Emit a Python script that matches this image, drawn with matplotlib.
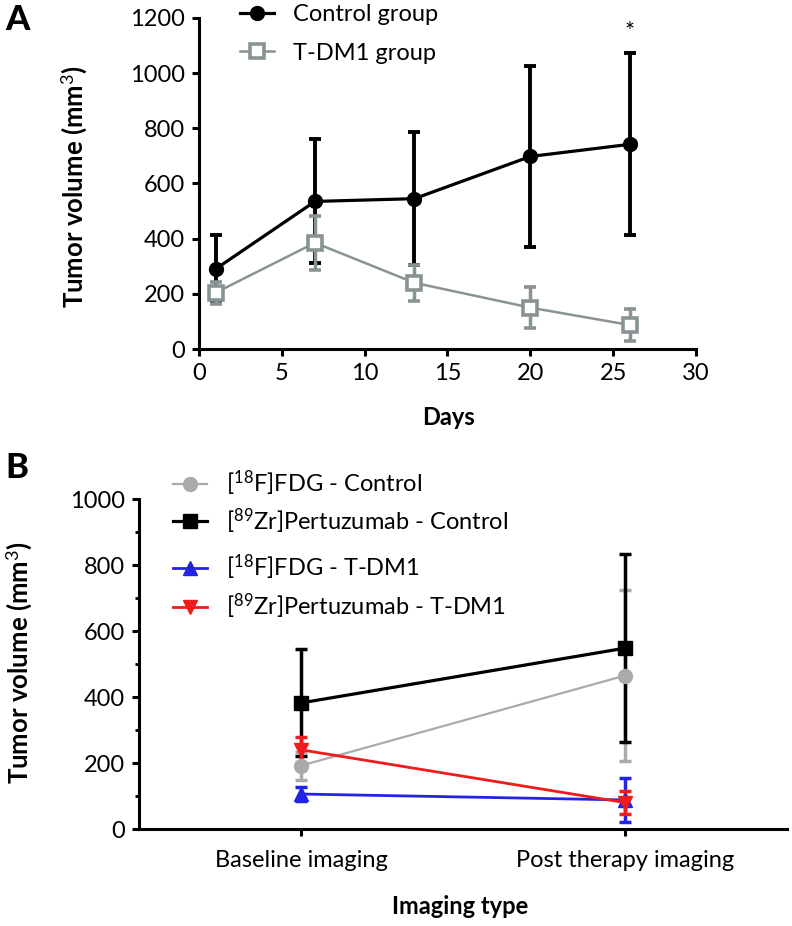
import numpy as np
import matplotlib
matplotlib.use('Agg')
import matplotlib.pyplot as plt
from matplotlib.ticker import MultipleLocator
from matplotlib.lines import Line2D

plt.rcParams['font.family'] = ['Lato', 'DejaVu Sans']
plt.rcParams['mathtext.fontset'] = 'custom'
plt.rcParams['mathtext.rm'] = 'Lato'
plt.rcParams['mathtext.it'] = 'Lato:italic'
plt.rcParams['mathtext.bf'] = 'Lato:bold'

# Panel A: tumor growth over days
days = [1, 7, 13, 20, 26]
control_mean = [290, 535, 545, 698, 742]
control_sd = [125, 225, 242, 328, 330]
tdm1_mean = [204, 385, 240, 150, 87]
tdm1_sd = [40, 98, 66, 74, 58]

# Panel B: imaging types
imaging = ['Baseline imaging', 'Post therapy imaging']
fdg_ctrl = [192, 465]
fdg_ctrl_sd = [42, 258]
zr_ctrl = [382, 548]
zr_ctrl_sd = [162, 284]
fdg_tdm1 = [106, 88]
fdg_tdm1_sd = [22, 67]
zr_tdm1 = [240, 80]
zr_tdm1_sd = [40, 34]

FS = 17
W, H = 792, 926
fig = plt.figure(figsize=(W / 100, H / 100), dpi=100)


def style_axes(ax):
    for s in ['top', 'right']:
        ax.spines[s].set_visible(False)
    for s in ['left', 'bottom']:
        ax.spines[s].set_linewidth(2.2)
    ax.tick_params(which='major', direction='out', length=5, width=2.2,
                   labelsize=FS, pad=5)
    ax.tick_params(which='minor', direction='out', length=3, width=2.0)


def px_axes(l, t, r, b):
    return fig.add_axes([l / W, 1 - b / H, (r - l) / W, (b - t) / H])


# ---------- panel A ----------
axA = px_axes(199, 18, 696, 349)
style_axes(axA)
axA.errorbar(days, control_mean, yerr=control_sd, color='black', lw=2.3,
             elinewidth=2.8, capsize=4, capthick=2.8, marker='o', ms=10,
             clip_on=False, zorder=3)
grey = '#899393'
axA.errorbar(days, tdm1_mean, yerr=tdm1_sd, color=grey, lw=1.8,
             elinewidth=2.5, capsize=4, capthick=2.5, marker='s', ms=10,
             mfc='white', mec=grey, mew=2.6, clip_on=False, zorder=4)
axA.set_xlim(0, 30)
axA.set_ylim(0, 1200)
axA.xaxis.set_major_locator(MultipleLocator(5))
axA.yaxis.set_major_locator(MultipleLocator(200))
axA.text(26, 1150, '*', ha='center', va='center', fontsize=FS)

hA = [Line2D([], [], color='black', lw=2.3, marker='o', ms=10),
      Line2D([], [], color=grey, lw=1.8, marker='s', ms=10, mfc='white',
             mec=grey, mew=2.6)]
fig.legend(hA, ['Control group', 'T-DM1 group'], loc='upper left',
           bbox_to_anchor=(240 / W, 1 - 4 / H), frameon=False, fontsize=FS,
           handlelength=1.45, handletextpad=0.8, labelspacing=0.75,
           borderpad=0, borderaxespad=0)

fig.text(74 / W, 1 - 187 / H, 'Tumor volume (mm$^3$)', rotation=90,
         ha='center', va='center', fontsize=18.5, fontweight='bold')
fig.text(449 / W, 1 - 417 / H, 'Days', ha='center', va='center',
         fontsize=FS, fontweight='bold')
fig.text(5 / W, 1 - 4 / H, 'A', ha='left', va='top', fontsize=25,
         fontweight='black')

# ---------- panel B ----------
axB = px_axes(139, 499, 787, 829)
style_axes(axB)
xpos = np.arange(len(imaging))
series = [
    (fdg_ctrl, fdg_ctrl_sd, '#aaaaaa', 'o', 1.6),
    (zr_ctrl, zr_ctrl_sd, 'black', 's', 2.3),
    (fdg_tdm1, fdg_tdm1_sd, '#2323e6', '^', 2.0),
    (zr_tdm1, zr_tdm1_sd, '#ee1c1c', 'v', 2.0),
]
handles = []
for vals, sd, col, mk, lw in series:
    axB.errorbar(xpos, vals, yerr=sd, color=col, lw=lw, elinewidth=2.5,
                 capsize=4, capthick=2.5, marker=mk, ms=10, clip_on=False)
    handles.append(Line2D([], [], color=col, lw=lw, marker=mk, ms=10))
axB.set_xlim(-0.5, 1.5)
axB.set_ylim(0, 1000)
axB.set_xticks(xpos)
axB.set_xticklabels(imaging)
axB.tick_params(axis='x', pad=10)
axB.yaxis.set_major_locator(MultipleLocator(200))
axB.yaxis.set_minor_locator(MultipleLocator(100))

labels = ['[$^{18}$F]FDG - Control', '[$^{89}$Zr]Pertuzumab - Control',
          '[$^{18}$F]FDG - T-DM1', '[$^{89}$Zr]Pertuzumab - T-DM1']
fig.legend(handles[:2], labels[:2], loc='center left',
           bbox_to_anchor=(173 / W, 1 - 502 / H), frameon=False,
           fontsize=FS, handlelength=1.45, handletextpad=0.8,
           labelspacing=0.35, borderpad=0, borderaxespad=0)
fig.legend(handles[2:], labels[2:], loc='center left',
           bbox_to_anchor=(173 / W, 1 - 587 / H), frameon=False,
           fontsize=FS, handlelength=1.45, handletextpad=0.8,
           labelspacing=0.4, borderpad=0, borderaxespad=0)

fig.text(19 / W, 1 - 663 / H, 'Tumor volume (mm$^3$)', rotation=90,
         ha='center', va='center', fontsize=18.5, fontweight='bold')
fig.text(460 / W, 1 - 906 / H, 'Imaging type', ha='center', va='center',
         fontsize=FS, fontweight='bold')
fig.text(5 / W, 1 - 452 / H, 'B', ha='left', va='top', fontsize=25,
         fontweight='black')

fig.savefig('out.png', dpi=100)
